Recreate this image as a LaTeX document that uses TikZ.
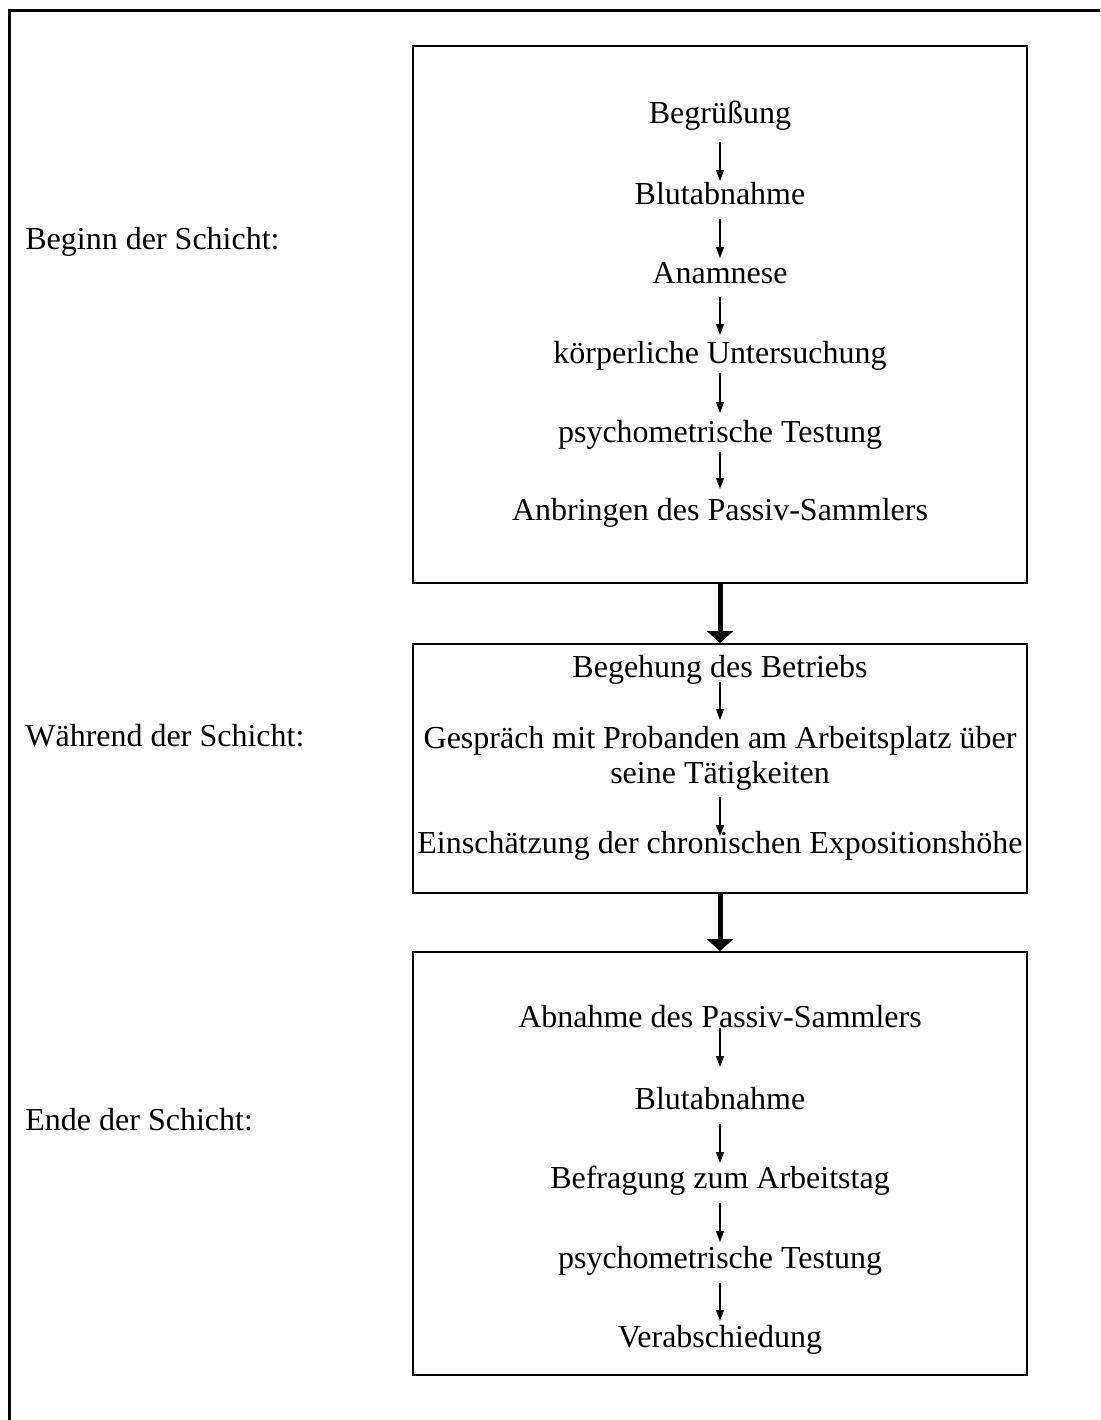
\documentclass[tikz,border=0pt]{standalone}
\usepackage{fontspec}
\setmainfont{Liberation Serif}
\usetikzlibrary{arrows.meta}
\begin{document}
\begin{tikzpicture}[x=0.5pt,y=-0.5pt,
  lbl/.style={font=\fontsize{16}{17.5}\selectfont, inner sep=0pt, anchor=base},
  stepnode/.style={lbl, align=center},
  boxnode/.style={draw, line width=1pt, minimum width=307pt, inner sep=0pt},
  flow/.style={line width=0.6pt, -{Triangle[width=4pt,length=5.5pt]}},
  bigflow/.style={line width=2.5pt, -{Triangle[width=13pt,length=6pt]}},
  frameline/.style={line width=1.25pt, line join=miter}]
\useasboundingbox (0,0) rectangle (1100,1420);
% outer frame
\draw[frameline] (9.6,1420) -- (9.6,10.6) -- (1100,10.6);
% boxes
\node[boxnode, minimum height=268.5pt] (box1) at (720,314.5) {};
\node[boxnode, minimum height=124.5pt] (box2) at (720,768.5) {};
\node[boxnode, minimum height=211.5pt] (box3) at (720,1163.5) {};
% left labels
\node[lbl, anchor=base west] (l1) at (25,249) {Beginn der Schicht:};
\node[lbl, anchor=base west] (l2) at (25,746) {Während der Schicht:};
\node[lbl, anchor=base west] (l3) at (25,1130) {Ende der Schicht:};
% box 1
\node[stepnode] (s1) at (720,123) {Begrüßung};
\node[stepnode] (s2) at (720,204) {Blutabnahme};
\node[stepnode] (s3) at (720,283) {Anamnese};
\node[stepnode] (s4) at (720,363) {körperliche Untersuchung};
\node[stepnode] (s5) at (720,442) {psychometrische Testung};
\node[stepnode] (s6) at (720,520) {Anbringen des Passiv-Sammlers};
\draw[flow] ([yshift=-9.5pt]s1.base) -- ([yshift=11.5pt]s2.base);
\draw[flow] ([yshift=-7.5pt]s2.base) -- ([yshift=12.5pt]s3.base);
\draw[flow] ([yshift=-7pt]s3.base) -- ([yshift=14pt]s4.base);
\draw[flow] ([yshift=-5pt]s4.base) -- ([yshift=14.5pt]s5.base);
\draw[flow] ([yshift=-5pt]s5.base) -- ([yshift=15.5pt]s6.base);
% box 2
\node[stepnode] (t1) at (720,677) {Begehung des Betriebs};
\node[stepnode] (t2) at (720,783) {Gespräch mit Probanden am Arbeitsplatz über\\seine Tätigkeiten};
\node[stepnode] (t3) at (720,853) {Einschätzung der chronischen Expositionshöhe};
\draw[flow] ([yshift=-2.5pt]t1.base) -- ([yshift=31.5pt]t2.base);
\draw[flow] ([yshift=-7pt]t2.base) -- ([yshift=8.5pt]t3.base);
% box 3
\node[stepnode] (u1) at (720,1027) {Abnahme des Passiv-Sammlers};
\node[stepnode] (u2) at (720,1109) {Blutabnahme};
\node[stepnode] (u3) at (720,1188) {Befragung zum Arbeitstag};
\node[stepnode] (u4) at (720,1268) {psychometrische Testung};
\node[stepnode] (u5) at (720,1347) {Verabschiedung};
\draw[flow] ([yshift=-0.5pt]u1.base) -- ([yshift=21pt]u2.base);
\draw[flow] ([yshift=-7.5pt]u2.base) -- ([yshift=12.5pt]u3.base);
\draw[flow] ([yshift=-7.5pt]u3.base) -- ([yshift=13pt]u4.base);
\draw[flow] ([yshift=-7.5pt]u4.base) -- ([yshift=13pt]u5.base);
% thick arrows between boxes
\draw[bigflow] (box1.south) -- (box2.north);
\draw[bigflow] (box2.south) -- (box3.north);
\end{tikzpicture}
\end{document}
